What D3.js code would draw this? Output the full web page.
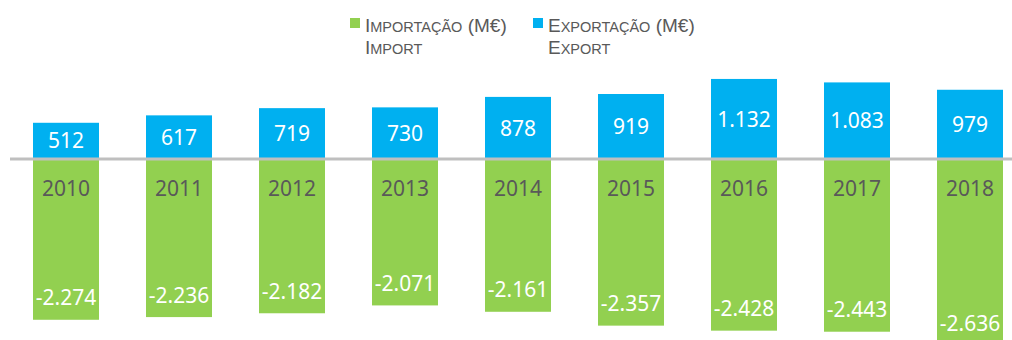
<!DOCTYPE html>
<html>
<head>
<meta charset="utf-8">
<script src="https://cdn.jsdelivr.net/npm/d3@7"></script>
<style>
  html, body { margin: 0; padding: 0; background: #ffffff; }
  svg { display: block; }
</style>
</head>
<body>
<svg id="chart" width="1012" height="340"></svg>
<script>
// Annual trade balance (M€)
const years = ["2010", "2011", "2012", "2013", "2014", "2015", "2016", "2017", "2018"];
const exportValues = [512, 617, 719, 730, 878, 919, 1132, 1083, 979];
const importValues = [-2274, -2236, -2182, -2071, -2161, -2357, -2428, -2443, -2636];
const legendItems = [
  { line1: "Importação (M€)", line2: "Import", color: "#92D050" },
  { line1: "Exportação (M€)", line2: "Export", color: "#00B0F0" }
];

const W = 1012, H = 340;
const FONT = "'Noto Sans', 'Open Sans', sans-serif";
const LEGEND_FONT = "'Liberation Sans', Arial, sans-serif";
const TEXT_GREY = "#595959";

const svg = d3.select("#chart");

const fmt = d3.formatLocale({
  decimal: ",", thousands: ".", grouping: [3], currency: ["", "€"], minus: "-"
}).format(",d");

const x = d3.scaleBand()
  .domain(years)
  .range([9.5, 1026.5])
  .paddingInner(0.416)
  .paddingOuter(0.208);

const y = d3.scaleLinear()
  .domain([-2500, 1250])
  .range([335.75, 70.6]);

const y0 = y(0);

// Export bars (above the axis)
svg.append("g").selectAll("rect")
  .data(years)
  .join("rect")
  .attr("x", d => x(d))
  .attr("width", x.bandwidth())
  .attr("y", (d, i) => y(exportValues[i]))
  .attr("height", (d, i) => y0 - y(exportValues[i]))
  .attr("fill", "#00B0F0");

// Import bars (below the axis)
svg.append("g").selectAll("rect")
  .data(years)
  .join("rect")
  .attr("x", d => x(d))
  .attr("width", x.bandwidth())
  .attr("y", y0)
  .attr("height", (d, i) => y(importValues[i]) - y0)
  .attr("fill", "#92D050");

// Zero line
svg.append("line")
  .attr("x1", 10).attr("x2", W)
  .attr("y1", y0).attr("y2", y0)
  .attr("stroke", "#BFBFBF")
  .attr("stroke-width", 3);

// Export value labels, centred in the bar
svg.append("g").selectAll("text")
  .data(years)
  .join("text")
  .attr("x", d => x(d) + x.bandwidth() / 2)
  .attr("y", (d, i) => (y(exportValues[i]) + y0) / 2)
  .attr("dy", "0.36em")
  .attr("text-anchor", "middle")
  .attr("font-family", FONT)
  .attr("font-size", 21)
  .attr("fill", "#ffffff")
  .text((d, i) => fmt(exportValues[i]));

// Import value labels, near the bar end
svg.append("g").selectAll("text")
  .data(years)
  .join("text")
  .attr("x", d => x(d) + x.bandwidth() / 2)
  .attr("y", (d, i) => y(importValues[i]) - 22)
  .attr("dy", "0.36em")
  .attr("text-anchor", "middle")
  .attr("font-family", FONT)
  .attr("font-size", 21)
  .attr("fill", "#ffffff")
  .text((d, i) => fmt(importValues[i]));

// Category labels just under the axis
svg.append("g").selectAll("text")
  .data(years)
  .join("text")
  .attr("x", d => x(d) + x.bandwidth() / 2)
  .attr("y", y0 + 29)
  .attr("dy", "0.36em")
  .attr("text-anchor", "middle")
  .attr("font-family", FONT)
  .attr("font-size", 21)
  .attr("fill", TEXT_GREY)
  .text(d => d);

// Small caps: lowercase letters become reduced-size capitals
const BIG = 19, SMALL = 14.5;
function smallCapsRuns(str) {
  const runs = [];
  for (const ch of str) {
    const isLower = ch !== ch.toUpperCase();
    const size = isLower ? SMALL : BIG;
    const c = isLower ? ch.toUpperCase() : ch;
    if (runs.length && runs[runs.length - 1].size === size) runs[runs.length - 1].text += c;
    else runs.push({ text: c, size });
  }
  return runs;
}

function drawSmallCaps(sel, accessor, yPos) {
  const t = sel.append("text")
    .attr("x", 15).attr("y", yPos)
    .attr("font-family", LEGEND_FONT)
    .attr("fill", TEXT_GREY)
    .attr("xml:space", "preserve")
    .style("white-space", "pre");
  t.selectAll("tspan")
    .data(d => smallCapsRuns(accessor(d)))
    .join("tspan")
    .attr("font-size", r => r.size)
    .text(r => r.text);
}

// Legend
const legendX = [350, 533];
const legend = svg.append("g").selectAll("g")
  .data(legendItems)
  .join("g")
  .attr("transform", (d, i) => `translate(${legendX[i]},0)`);

legend.append("rect")
  .attr("x", 0).attr("y", 18)
  .attr("width", 10).attr("height", 10)
  .attr("fill", d => d.color);

drawSmallCaps(legend, d => d.line1, 32);
drawSmallCaps(legend, d => d.line2, 53.5);
</script>
</body>
</html>
